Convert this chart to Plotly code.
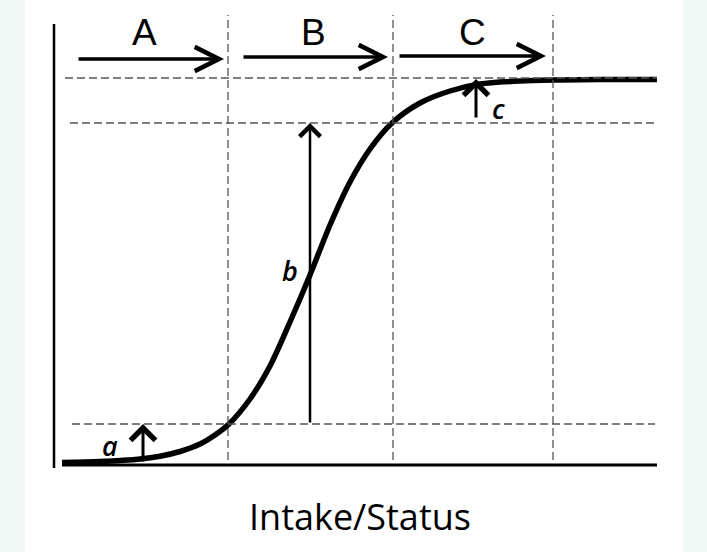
import plotly.graph_objects as go

# ---- data (diagram units: x right from y-axis, y up from x-axis) ----
curve_x = [8, 46, 86, 106, 126, 146, 161, 175, 196, 216, 236, 256, 276, 296, 316, 338, 366, 396, 426, 466, 506, 546, 603]
curve_y = [2.5, 3.5, 6, 8.8, 13.5, 21, 30, 41, 66, 99, 143, 190, 240, 283, 316, 342, 362, 374, 381, 384, 385, 385.5, 385.5]

phase_bounds = [174, 339, 499]          # vertical dashed lines
levels = [41, 342, 387]                  # horizontal dashed lines
level_x0 = [18, 16, 11]
level_x1 = [601, 601, 603]

phase_labels = ["A", "B", "C"]
phase_label_x = [90, 259, 418]
phase_arrow_x0 = [23, 188, 344]
phase_arrow_x1 = [170, 334, 492]
phase_arrow_y = [406, 408, 409]

resp_labels = ["a", "b", "c"]
resp_arrow_x = [89, 256, 422]
resp_arrow_y0 = [2, 41, 346]
resp_arrow_y1 = [41, 342, 386]
resp_arrow_w = [3, 2.5, 3]
resp_label_x = [56, 236, 444]
resp_label_y = [20, 195, 357]

x_title = "Intake/Status"

fig = go.Figure()

fig.add_trace(go.Scatter(x=curve_x, y=curve_y, mode="lines",
                         line=dict(color="black", width=5.5, shape="spline", smoothing=0.8),
                         hoverinfo="skip", showlegend=False))

shapes = []
# background strips
shapes.append(dict(type="rect", xref="paper", yref="paper", x0=-0.0305, x1=1.0257, y0=-1, y1=2,
                   fillcolor="white", line=dict(width=0), layer="below"))
for xb in phase_bounds:
    shapes.append(dict(type="line", xref="x", yref="y", x0=xb, x1=xb, y0=5, y1=450,
                       line=dict(color="#555555", width=1.3, dash="8px,4px")))
for lv, a0, a1 in zip(levels, level_x0, level_x1):
    shapes.append(dict(type="line", xref="x", yref="y", x0=a0, x1=a1, y0=lv, y1=lv,
                       line=dict(color="#555555", width=1.3, dash="8px,4px")))
# axes
shapes.append(dict(type="line", xref="x", yref="y", x0=0, x1=0, y0=-3, y1=441,
                   line=dict(color="black", width=2.5)))
shapes.append(dict(type="line", xref="x", yref="y", x0=8, x1=603, y0=0, y1=0,
                   line=dict(color="black", width=3)))
fig.update_layout(shapes=shapes)

ann = []
for lab, lx, x0, x1, y in zip(phase_labels, phase_label_x, phase_arrow_x0, phase_arrow_x1, phase_arrow_y):
    ann.append(dict(x=x1, y=y, ax=x0, ay=y, xref="x", yref="y", axref="x", ayref="y",
                    text="", showarrow=True, arrowhead=5, arrowsize=1.35, arrowwidth=3.5,
                    arrowcolor="black", standoff=0))
    ann.append(dict(x=lx, y=433, xref="x", yref="y", text=lab, showarrow=False,
                    font=dict(family="Liberation Sans", size=37, color="black")))
for lab, ax_, y0, y1, w, lx, ly in zip(resp_labels, resp_arrow_x, resp_arrow_y0, resp_arrow_y1,
                                      resp_arrow_w, resp_label_x, resp_label_y):
    ann.append(dict(x=ax_, y=y1, ax=ax_, ay=y0, xref="x", yref="y", axref="x", ayref="y",
                    text="", showarrow=True, arrowhead=4, arrowsize=1.6, arrowwidth=w,
                    arrowcolor="black", standoff=0))
    ann.append(dict(x=lx, y=ly, xref="x", yref="y", text=lab, showarrow=False,
                    font=dict(family="Open Sans", size=27, color="black", style="italic", weight=600)))
ann.append(dict(x=306, y=-0.089, xref="x", yref="paper", text=x_title, showarrow=False,
                xanchor="center", yanchor="middle",
                font=dict(family="Open Sans", size=36, color="black", weight=500)))
fig.update_layout(annotations=ann)

fig.update_xaxes(range=[-10, 613], visible=False, fixedrange=True)
fig.update_yaxes(range=[-10, 451], visible=False, fixedrange=True)
fig.update_layout(width=707, height=552, margin=dict(l=44, r=40, t=14, b=77),
                  paper_bgcolor="#f1f9f7", plot_bgcolor="rgba(0,0,0,0)")

fig.write_html("out.html", config={"displayModeBar": False},
               post_script="document.body.style.margin='0';document.body.style.overflow='hidden';")
